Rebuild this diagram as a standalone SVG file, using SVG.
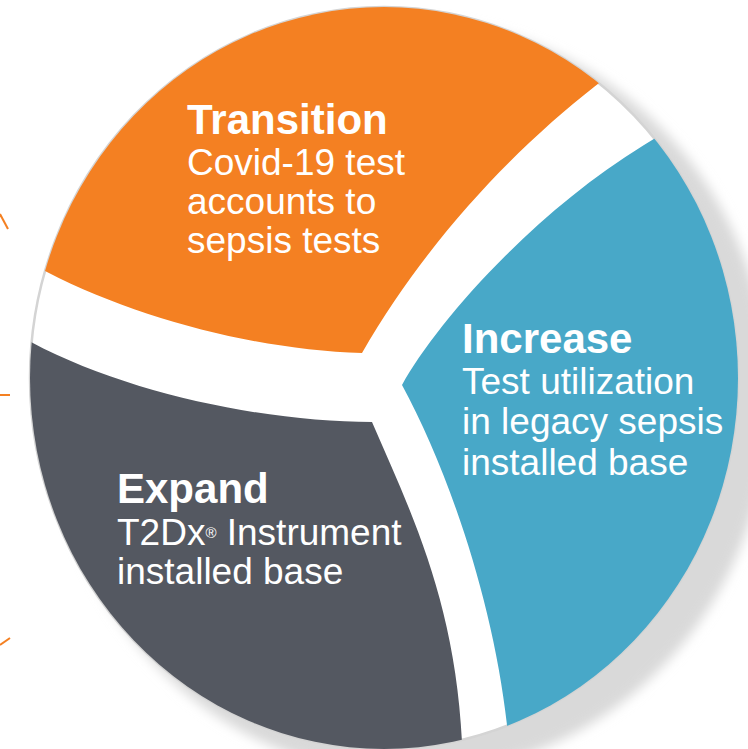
<svg xmlns="http://www.w3.org/2000/svg" width="748" height="749" viewBox="0 0 748 749">
  <style>
    .title { font-family: "Liberation Sans", Arial, sans-serif; font-weight: bold; font-size: 42px; fill: #ffffff; }
    .body { font-family: "Liberation Sans", Arial, sans-serif; font-size: 37px; fill: #ffffff; }
    .tick { stroke: #F48022; stroke-width: 2; fill: none; }
  </style>
  <defs>
    <clipPath id="disc">
      <ellipse cx="384" cy="378" rx="354" ry="371"/>
    </clipPath>
    <filter id="blur" x="-20%" y="-20%" width="140%" height="140%">
      <feGaussianBlur stdDeviation="6"/>
    </filter>
  </defs>
  <rect width="748" height="749" fill="#ffffff"/>

  <g id="disc-base">
    <ellipse cx="410" cy="398" rx="360" ry="377" fill="#d9d9d9" filter="url(#blur)"/>
    <ellipse cx="384" cy="378" rx="354" ry="371" fill="#ffffff" stroke="#d4d4d4" stroke-width="2.5"/>
  </g>

  <g id="ticks">
    <line class="tick" x1="0" y1="214" x2="8" y2="229"/>
    <line class="tick" x1="0" y1="395" x2="10" y2="395"/>
    <line class="tick" x1="0" y1="645" x2="10" y2="638"/>
  </g>

  <g clip-path="url(#disc)">
    <g id="seg-transition">
      <path fill="#F48022" d="M 668 29 L 594 87 C 520 145, 430 235, 362 353 C 260 350, 140 320, 47 272 L -46 224 L -46 -20 L 700 -20 Z"/>
    </g>
    <g id="seg-increase">
      <path fill="#48A8C8" d="M 402 385 C 435 325, 530 215, 644 145 L 758 75 L 800 75 L 800 850 L 524 850 L 507 725 C 493 600, 448 470, 402 385 Z"/>
    </g>
    <g id="seg-expand">
      <path fill="#545861" d="M 372 422 C 410 510, 455 600, 462 742 L 469 880 L -80 880 L -68 289 L 31 342 C 130 395, 270 422, 372 422 Z"/>
    </g>
  </g>

  <g id="label-transition">
    <text class="title" x="187" y="134">Transition</text>
    <text class="body" x="187" y="175">Covid-19 test</text>
    <text class="body" x="187" y="214">accounts to</text>
    <text class="body" x="187" y="253">sepsis tests</text>
  </g>
  <g id="label-increase">
    <text class="title" x="462" y="353">Increase</text>
    <text class="body" x="462" y="394">Test utilization</text>
    <text class="body" x="462" y="434">in legacy sepsis</text>
    <text class="body" x="462" y="475">installed base</text>
  </g>
  <g id="label-expand">
    <text class="title" x="117" y="503">Expand</text>
    <text class="body" x="117" y="545">T2Dx<tspan font-size="15" dy="-7">®</tspan><tspan dy="7"> Instrument</tspan></text>
    <text class="body" x="117" y="584">installed base</text>
  </g>
</svg>
